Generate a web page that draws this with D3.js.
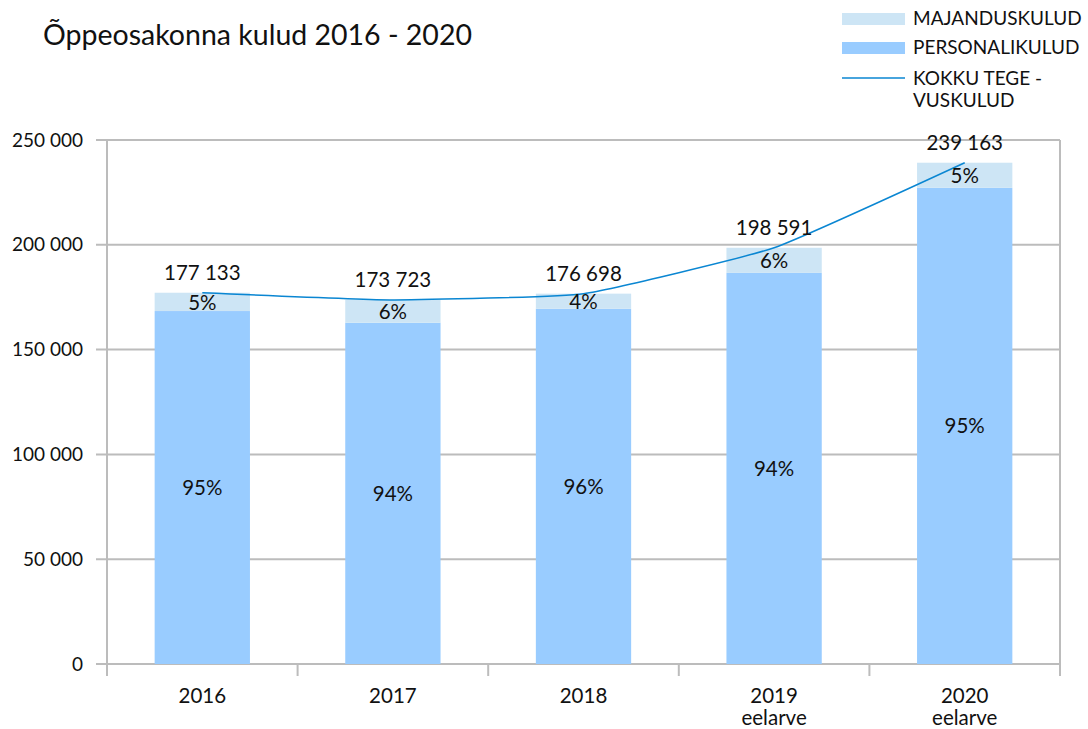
<!DOCTYPE html>
<html>
<head>
<meta charset="utf-8">
<script src="https://cdn.jsdelivr.net/npm/d3@7"></script>
<style>
  body { margin: 0; background: #fff; }
  text { font-family: Lato, "Noto Sans", sans-serif; fill: #111; }
</style>
</head>
<body>
<div id="chart"></div>
<script>
// Data
var years = ["2016", "2017", "2018", "2019", "2020"];
var yearNotes = ["", "", "", "eelarve", "eelarve"];
var personal = [168400, 162800, 169500, 186600, 227200];
var totals = [177133, 173723, 176698, 198591, 239163];
var personalPct = ["95%", "94%", "96%", "94%", "95%"];
var majandusPct = ["5%", "6%", "4%", "6%", "5%"];
var yTicks = [0, 50000, 100000, 150000, 200000, 250000];
var legendLabels = ["MAJANDUSKULUD", "PERSONALIKULUD", ["KOKKU TEGE -", "VUSKULUD"]];

var svgWidth = 1088;
var svgHeight = 729;

var chartMargin = { top: 140, right: 28, bottom: 65, left: 107 };
var chartWidth = svgWidth - chartMargin.left - chartMargin.right;
var chartHeight = svgHeight - chartMargin.top - chartMargin.bottom;

var colMajandus = "#cde5f5";
var colPersonal = "#99ccff";
var colLine = "#0a86d2";
var colGrid = "#bcbcbc";
var fs = "19px";
var fsBig = "20.5px";

var locale = d3.formatLocale({ decimal: ",", thousands: " ", grouping: [3], currency: ["", ""] });
var fmt = locale.format(",d");

var svg = d3.select("#chart").append("svg")
  .attr("width", svgWidth)
  .attr("height", svgHeight);

// Title
svg.append("text")
  .attr("x", 43)
  .attr("y", 45)
  .style("font-size", "28.5px")
  .text("Õppeosakonna kulud 2016 - 2020");

var chartGroup = svg.append("g")
  .attr("transform", `translate(${chartMargin.left}, ${chartMargin.top})`);

var xBandScale = d3.scaleBand()
  .domain(years)
  .range([0, chartWidth])
  .paddingInner(0.5)
  .paddingOuter(0.25);

var yLinearScale = d3.scaleLinear()
  .domain([0, 250000])
  .range([chartHeight, 0]);

// Grid lines
chartGroup.append("g")
  .selectAll("line")
  .data(yTicks)
  .enter()
  .append("line")
  .attr("x1", -11)
  .attr("x2", chartWidth)
  .attr("y1", d => yLinearScale(d))
  .attr("y2", d => yLinearScale(d))
  .attr("stroke", colGrid)
  .attr("stroke-width", 2);

// Left axis labels
chartGroup.append("g")
  .selectAll("text")
  .data(yTicks)
  .enter()
  .append("text")
  .attr("x", -24)
  .attr("y", d => yLinearScale(d))
  .attr("dy", "0.35em")
  .attr("text-anchor", "end")
  .style("font-size", fs)
  .text(d => fmt(d));

// Vertical axis lines and category ticks
var step = xBandScale.step();
var tickXs = d3.range(years.length + 1).map(i => i * step);
chartGroup.append("g")
  .selectAll("line")
  .data(tickXs)
  .enter()
  .append("line")
  .attr("x1", d => d)
  .attr("x2", d => d)
  .attr("y1", d => (d === 0 || d === tickXs[tickXs.length - 1]) ? 0 : chartHeight)
  .attr("y2", chartHeight + 12)
  .attr("stroke", colGrid)
  .attr("stroke-width", 2);

// Bars: personnel
chartGroup.selectAll(".bar-p")
  .data(years)
  .enter()
  .append("rect")
  .attr("x", d => xBandScale(d))
  .attr("y", (d, i) => yLinearScale(personal[i]))
  .attr("width", xBandScale.bandwidth())
  .attr("height", (d, i) => chartHeight - yLinearScale(personal[i]))
  .style("fill", colPersonal);

// Bars: majandus on top
chartGroup.selectAll(".bar-m")
  .data(years)
  .enter()
  .append("rect")
  .attr("x", d => xBandScale(d))
  .attr("y", (d, i) => yLinearScale(totals[i]))
  .attr("width", xBandScale.bandwidth())
  .attr("height", (d, i) => yLinearScale(personal[i]) - yLinearScale(totals[i]))
  .style("fill", colMajandus);

// Total line
var line = d3.line()
  .x((d, i) => xBandScale(years[i]) + xBandScale.bandwidth() / 2)
  .y(d => yLinearScale(d))
  .curve(d3.curveCardinal.tension(0.6));

chartGroup.append("path")
  .datum(totals)
  .attr("d", line)
  .attr("fill", "none")
  .attr("stroke", colLine)
  .attr("stroke-width", 1.5);

var cx = d => xBandScale(d) + xBandScale.bandwidth() / 2;

// Percent labels
chartGroup.selectAll(".pct-p")
  .data(years)
  .enter()
  .append("text")
  .attr("x", cx)
  .attr("y", (d, i) => (yLinearScale(personal[i]) + chartHeight) / 2)
  .attr("dy", "0.35em")
  .attr("text-anchor", "middle")
  .style("font-size", fsBig)
  .text((d, i) => personalPct[i]);

chartGroup.selectAll(".pct-m")
  .data(years)
  .enter()
  .append("text")
  .attr("x", cx)
  .attr("y", (d, i) => (yLinearScale(personal[i]) + yLinearScale(totals[i])) / 2)
  .attr("dy", "0.38em")
  .attr("text-anchor", "middle")
  .style("font-size", fsBig)
  .text((d, i) => majandusPct[i]);

// Total labels
chartGroup.selectAll(".tot")
  .data(years)
  .enter()
  .append("text")
  .attr("x", cx)
  .attr("y", (d, i) => yLinearScale(totals[i]) - 13)
  .attr("text-anchor", "middle")
  .style("font-size", fsBig)
  .text((d, i) => fmt(totals[i]));

// Category labels
var xl = chartGroup.selectAll(".xl")
  .data(years)
  .enter()
  .append("text")
  .attr("x", cx)
  .attr("y", chartHeight + 39)
  .attr("text-anchor", "middle")
  .style("font-size", fsBig);
xl.append("tspan").attr("x", cx).text(d => d);
xl.append("tspan").attr("x", cx).attr("dy", 22).text((d, i) => yearNotes[i]);

// Legend
var legend = svg.append("g").attr("transform", "translate(842, 0)");
legend.append("rect").attr("x", 0).attr("y", 13).attr("width", 63).attr("height", 12).style("fill", colMajandus);
legend.append("rect").attr("x", 0).attr("y", 42).attr("width", 63).attr("height", 12).style("fill", colPersonal);
legend.append("line").attr("x1", 0).attr("x2", 63).attr("y1", 78).attr("y2", 78)
  .attr("stroke", colLine).attr("stroke-width", 1.5);
legend.append("text").attr("x", 71).attr("y", 25).style("font-size", fs).text(legendLabels[0]);
legend.append("text").attr("x", 71).attr("y", 54).style("font-size", fs).text(legendLabels[1]);
var lt = legend.append("text").attr("x", 71).attr("y", 85).style("font-size", fs);
lt.append("tspan").attr("x", 71).text(legendLabels[2][0]);
lt.append("tspan").attr("x", 71).attr("dy", 22).text(legendLabels[2][1]);
</script>
</body>
</html>
